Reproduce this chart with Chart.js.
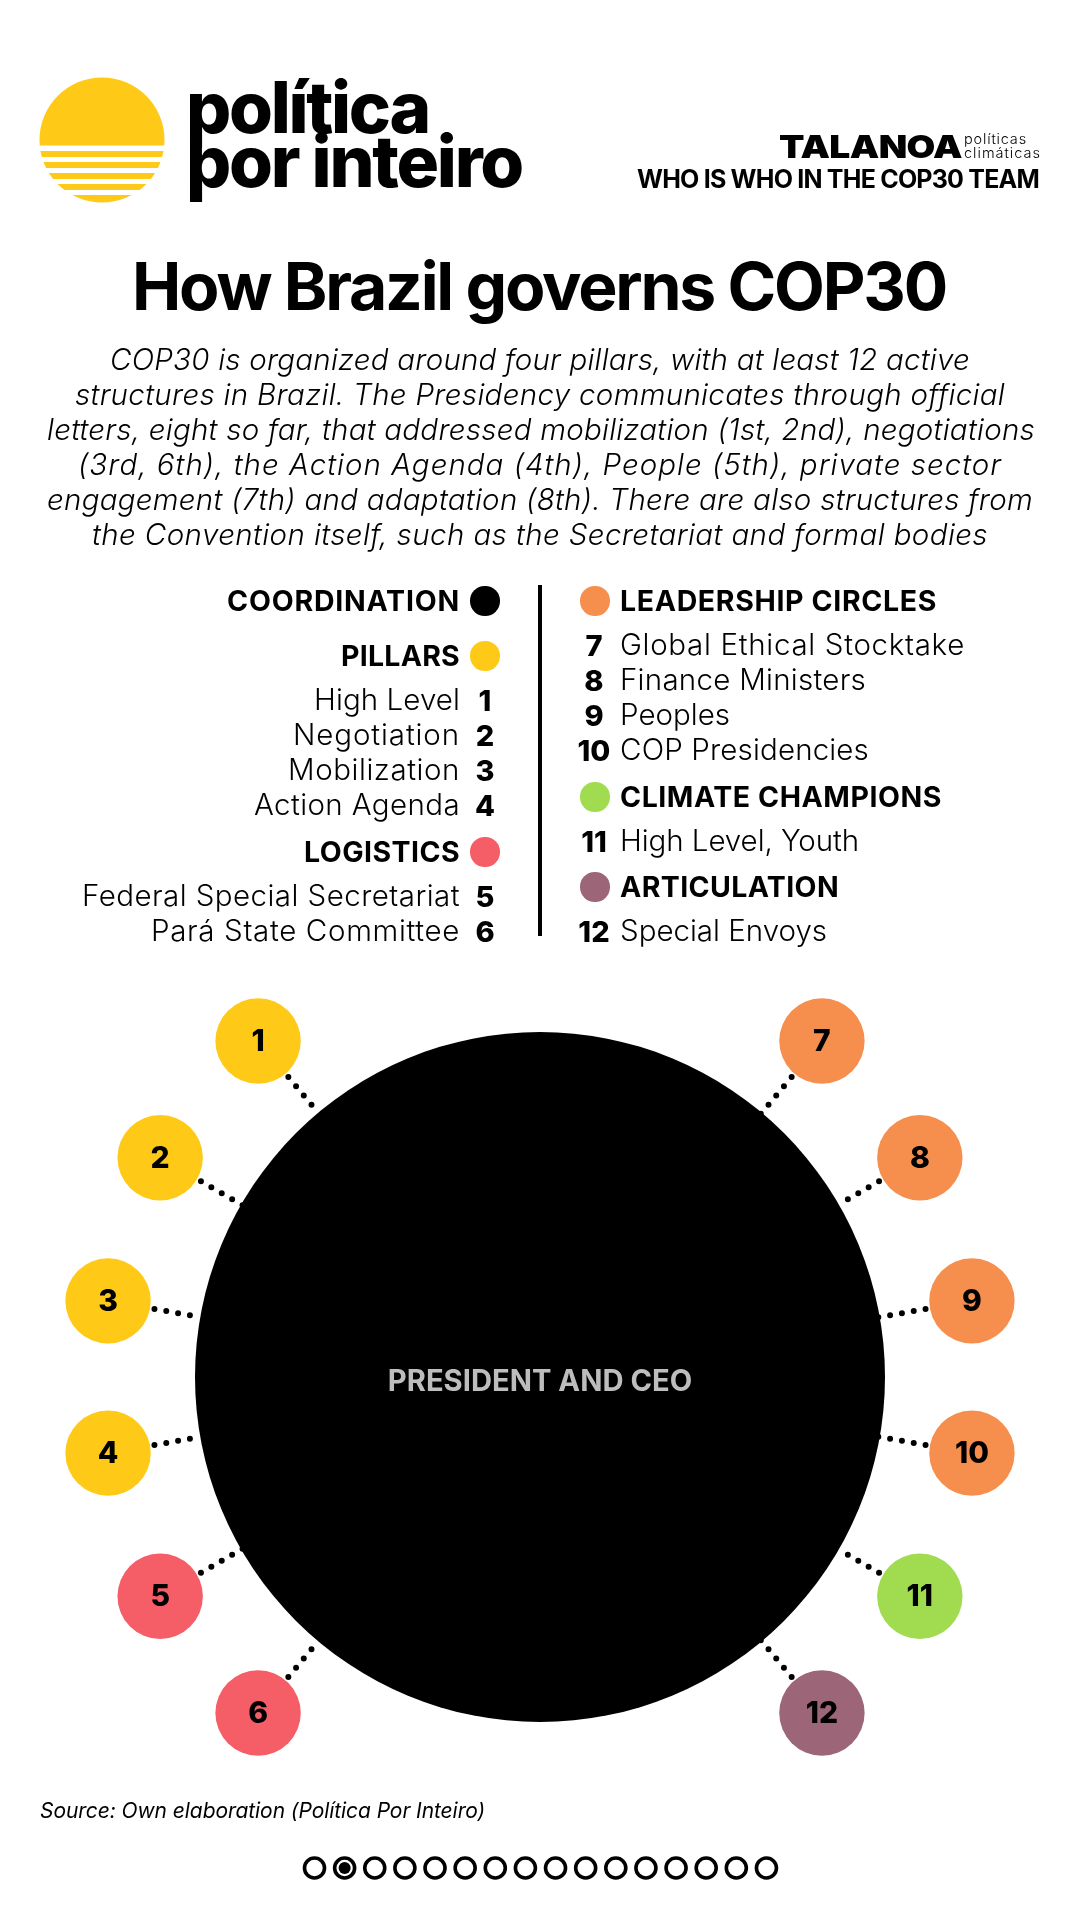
<!DOCTYPE html>
<html>
<head>
<meta charset="utf-8">
<style>
html,body{margin:0;padding:0;background:#fff;}
#page{position:relative;width:1080px;height:1920px;overflow:hidden;background:#fff;color:#000;font-family:Inter,sans-serif;}
#c{position:absolute;left:0;top:0;}
.t{position:absolute;white-space:nowrap;line-height:1;}
svg{position:absolute;left:0;top:0;}
</style>
</head>
<body>
<div id="page">
<canvas id="c" width="1080" height="1920"></canvas>
<svg width="1080" height="1920" id="ov">
  <defs><clipPath id="sun"><rect x="30" y="70" width="150" height="75.5"/><rect x="30" y="151" width="150" height="6"/><rect x="30" y="162" width="150" height="6"/><rect x="30" y="173" width="150" height="6"/><rect x="30" y="184" width="150" height="6"/><rect x="30" y="195" width="150" height="8"/></clipPath></defs>
  <circle cx="102" cy="140" r="62.5" fill="#FFC917" clip-path="url(#sun)"/>
  <rect x="538" y="585" width="4" height="351" fill="#000"/>
</svg>
</div>
<script src="https://cdn.jsdelivr.net/npm/chart.js@4"></script>
<script>
// ---- chart values ----
const nodeIds      = [1,2,3,4,5,6,7,8,9,10,11,12];
const nodeBearings = [320,300,280,260,240,220,40,60,80,100,120,140]; // degrees clockwise from the top of the central circle
const nodeGroups   = ["pillars","pillars","pillars","pillars","logistics","logistics","circles","circles","circles","circles","champions","articulation"];
const groupNames   = ["coordination","pillars","logistics","circles","champions","articulation"];
const groupColors  = ["#000000","#FFC917","#F55D67","#F68F4E","#A0DB50","#9D6578"];
const centreLabel  = "PRESIDENT AND CEO";
const pagerPages   = 16;
const pagerCurrent = 2;

const colorOf = g => groupColors[groupNames.indexOf(g)];
const ORBIT = 438.6, R_CENTER = 345, R_NODE = 42.7, DOT_OUT = 391.5, DOT_IN = 343.5;
const polar = (r, deg) => ({x: r*Math.sin(deg*Math.PI/180), y: r*Math.cos(deg*Math.PI/180)});

// ---- text helpers ----
const page = document.getElementById('page');
function put(text, o){
  const e = document.createElement('div');
  e.className = 't';
  e.textContent = text;
  e.style.fontSize = o.size + 'px';
  e.style.fontWeight = o.weight || 400;
  if(o.italic) e.style.fontStyle = 'italic';
  if(o.family) e.style.fontFamily = o.family;
  e.style.top = o.y + 'px';
  const tx = o.align==='right' ? '-100%' : o.align==='center' ? '-50%' : '0';
  e.style.left = o.x + 'px';
  e.style.transform = `translate(${tx},-50%)`;
  page.appendChild(e);
  if(o.w){
    const n = text.length;
    const ls = (o.w - e.getBoundingClientRect().width)/n;
    e.style.letterSpacing = ls + 'px';
  }
  if(o.sx){
    e.style.transformOrigin = '0 50%';
    e.style.transform += ` scaleX(${o.sx})`;
  }
  return e;
}
function dot(x,y,c){
  const e = document.createElement('div');
  e.style.cssText = `position:absolute;left:${x-14.7}px;top:${y-14.7}px;width:29.4px;height:29.4px;border-radius:50%;background:${c}`;
  page.appendChild(e);
}

// header
put("política",   {x:186,y:107,size:71,weight:800,w:243});
put("por inteiro",{x:186,y:161,size:71,weight:800,w:336});
put("TALANOA",    {x:779,y:147,size:31.5,weight:900,w:155,sx:1.18});
put("políticas",  {x:964,y:139,size:14.5,weight:300,w:63});
put("climáticas", {x:964,y:153,size:14.5,weight:300,w:77});
put("WHO IS WHO IN THE COP30 TEAM",{x:637,y:179,size:25,weight:700,w:402});
put("How Brazil governs COP30",{x:132,y:286,size:66,weight:700,w:814});

// intro paragraph
[["COP30 is organized around four pillars, with at least 12 active",110,860,360],
 ["structures in Brazil. The Presidency communicates through official",75,930,395],
 ["letters, eight so far, that addressed mobilization (1st, 2nd), negotiations",47,988,430],
 ["(3rd, 6th), the Action Agenda (4th), People (5th), private sector",78,924,465],
 ["engagement (7th) and adaptation (8th). There are also structures from",47,986,500],
 ["the Convention itself, such as the Secretariat and formal bodies",92,896,535]]
 .forEach(l=>put(l[0],{x:l[1],y:l[3],size:29.5,weight:300,italic:true,w:l[2]}));

// legend, left column
const HEAD=28.5, ITEM=29.5, NUM=29;
function leftHead(t,y,w,g){put(t,{x:460,y:y+1,size:HEAD,weight:700,align:'right',w});dot(485,y+1,colorOf(g));}
function leftItem(t,n,y,w){put(t,{x:460,y,size:ITEM,weight:300,align:'right',w});put(String(n),{x:485,y,size:NUM,weight:800,align:'center'});}
leftHead("COORDINATION",600,233,"coordination");
leftHead("PILLARS",655,119,"pillars");
leftItem("High Level",1,700,146);
leftItem("Negotiation",2,735,167);
leftItem("Mobilization",3,770,172);
leftItem("Action Agenda",4,805,206);
leftHead("LOGISTICS",851,156,"logistics");
leftItem("Federal Special Secretariat",5,896,378);
leftItem("Pará State Committee",6,931,309);

// legend, right column
function rightHead(t,y,w,g){put(t,{x:620,y:y+1,size:HEAD,weight:700,w});dot(595,y+1,colorOf(g));}
function rightItem(t,n,y,w){put(t,{x:620,y,size:ITEM,weight:300,w});put(String(n),{x:594,y,size:NUM,weight:800,align:'center'});}
rightHead("LEADERSHIP CIRCLES",600,317,"circles");
rightItem("Global Ethical Stocktake",7,645,345);
rightItem("Finance Ministers",8,680,246);
rightItem("Peoples",9,715,110);
rightItem("COP Presidencies",10,750,249);
rightHead("CLIMATE CHAMPIONS",796,322,"champions");
rightItem("High Level, Youth",11,841,239);
rightHead("ARTICULATION",886,219,"articulation");
rightItem("Special Envoys",12,931,207);

// footer
put("Source: Own elaboration (Política Por Inteiro)",{x:40,y:1810,size:21,weight:400,italic:true,w:445});

// pager
const ov = document.getElementById('ov');
for(let i=1;i<=pagerPages;i++){
  const cx = 314.5 + (i-1)*30.13;
  const c = document.createElementNS('http://www.w3.org/2000/svg','circle');
  c.setAttribute('cx',cx);c.setAttribute('cy',1868);c.setAttribute('r',10);
  c.setAttribute('fill','none');c.setAttribute('stroke','#000');c.setAttribute('stroke-width',3.6);
  ov.appendChild(c);
  if(i===pagerCurrent){
    const d = document.createElementNS('http://www.w3.org/2000/svg','circle');
    d.setAttribute('cx',cx);d.setAttribute('cy',1868);d.setAttribute('r',6);d.setAttribute('fill','#000');
    ov.appendChild(d);
  }
}

// ---- chart ----
const nodePoints = nodeBearings.map(b=>polar(ORBIT,b));
const connectors = nodeBearings.map(b=>({
  type:'line', data:[polar(DOT_OUT,b),polar(DOT_IN,b)], showLine:true, pointRadius:0,
  borderColor:'#000', borderWidth:6, borderCapStyle:'round', borderDash:[0,12], clip:false
}));
const labelPlugin = {
  id:'nodeLabels',
  afterDatasetsDraw(chart){
    const ctx = chart.ctx, meta = chart.getDatasetMeta(0), mc = chart.getDatasetMeta(1);
    ctx.save();
    ctx.textAlign='center';ctx.textBaseline='middle';
    ctx.fillStyle='#000';
    ctx.font='800 30px Inter, sans-serif';
    meta.data.forEach((p,i)=>ctx.fillText(String(nodeIds[i]),p.x,p.y+1));
    ctx.fillStyle='#BDBDBD';
    ctx.font='700 29.2px Inter, sans-serif';
    ctx.fillText(centreLabel,mc.data[0].x,mc.data[0].y+5);
    ctx.restore();
  }
};
new Chart(document.getElementById('c'),{
  type:'scatter',
  data:{datasets:[
    {data:nodePoints,backgroundColor:nodeGroups.map(colorOf),pointRadius:R_NODE,pointBorderWidth:0,clip:false},
    {data:[{x:0,y:0}],backgroundColor:colorOf("coordination"),pointRadius:R_CENTER,pointBorderWidth:0,clip:false},
    ...connectors
  ]},
  options:{
    responsive:false,animation:false,events:[],
    layout:{padding:0,autoPadding:false},
    scales:{
      x:{type:'linear',display:false,min:-540,max:540},
      y:{type:'linear',display:false,min:-543,max:1377}
    },
    plugins:{legend:{display:false},tooltip:{enabled:false},title:{display:false}}
  },
  plugins:[labelPlugin]
});
</script>
</body>
</html>
